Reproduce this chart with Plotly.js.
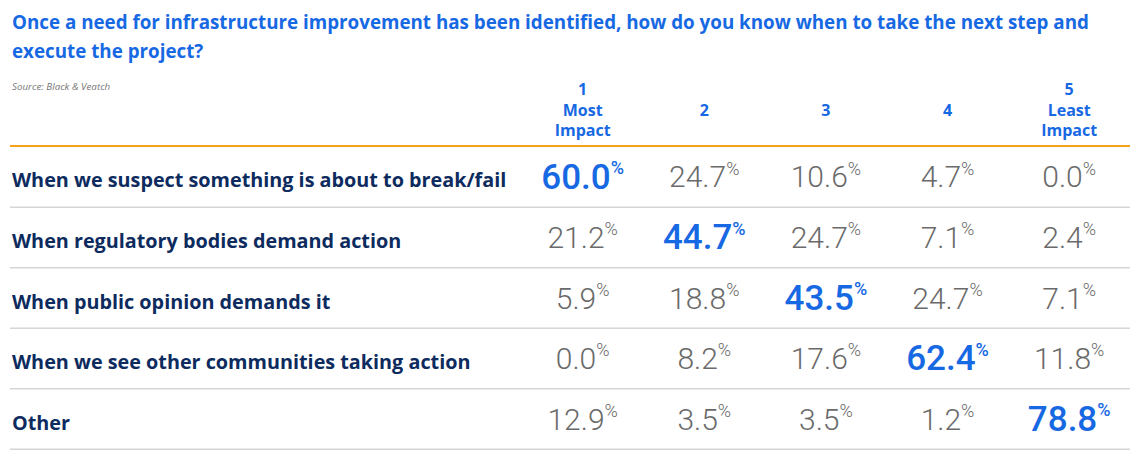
<!DOCTYPE html>
<html>
<head>
<meta charset="utf-8">
<script src="https://cdn.plot.ly/plotly-3.0.1.min.js"></script>
<style>
  body { margin: 0; background: #fff; }
  #chart { width: 1140px; height: 475px; }
</style>
</head>
<body>
<div id="chart"></div>
<script>
// survey data
var title_lines = [
    'Once a need for infrastructure improvement has been identified, how do you know when to take the next step and',
    'execute the project?'
];
var statements = [
    'When we suspect something is about to break/fail',
    'When regulatory bodies demand action',
    'When public opinion demands it',
    'When we see other communities taking action',
    'Other'
];
var columns = ['1<br>Most<br>Impact', '2', '3', '4', '5<br>Least<br>Impact'];

var impact1 = [60.0, 21.2, 5.9, 0.0, 12.9];
var impact2 = [24.7, 44.7, 18.8, 8.2, 3.5];
var impact3 = [10.6, 24.7, 43.5, 17.6, 3.5];
var impact4 = [4.7, 7.1, 24.7, 62.4, 1.2];
var impact5 = [0.0, 2.4, 7.1, 11.8, 78.8];

var blue = '#1769e3';
var navy = '#0d2b5e';
var grey = '#6a6a6a';

// build the cells: highlight the biggest value of each row
var cols = [impact1, impact2, impact3, impact4, impact5];
var plain_cells = {x: [], y: [], text: []};
var best_cells = {x: [], y: [], text: []};

for (var r = 0; r < statements.length; r++) {
    var best = 0;
    for (var c = 0; c < cols.length; c++) {
        if (cols[c][r] > cols[best][r]) best = c;
    }
    for (var c = 0; c < cols.length; c++) {
        var target = (c == best) ? best_cells : plain_cells;
        target.x.push(c);
        target.y.push(r);
        target.text.push(cols[c][r].toFixed(1) + '<sup><span style="font-size:18px">%</span></sup>');
    }
}

var trace_plain = {
    x: plain_cells.x, y: plain_cells.y, text: plain_cells.text,
    mode: 'text', type: 'scatter',
    textposition: 'middle center',
    textfont: {family: 'Roboto, Lato, sans-serif', size: 30, color: grey, weight: 300},
    hoverinfo: 'none'
};

var trace_best = {
    x: best_cells.x, y: best_cells.y, text: best_cells.text,
    mode: 'text', type: 'scatter',
    textposition: 'middle center',
    textfont: {family: 'Roboto, Lato, sans-serif', size: 35, color: blue, weight: 500},
    hoverinfo: 'none'
};

var trace_head = {
    x: [0, 1, 2, 3, 4],
    y: [-1.13, -1.13, -1.13, -1.13, -1.13],
    text: columns,
    mode: 'text', type: 'scatter',
    textposition: 'middle center',
    textfont: {family: 'Open Sans, sans-serif', size: 16, color: blue, weight: 700},
    hoverinfo: 'none'
};

// row labels and separator lines
var annotations = [];
var shapes = [];
for (var r = 0; r < statements.length; r++) {
    annotations.push({
        xref: 'paper', yref: 'y', x: 0, y: r,
        xanchor: 'left', yanchor: 'middle',
        text: statements[r], showarrow: false,
        font: {family: 'Open Sans, sans-serif', size: 19.8, color: navy, weight: 700}
    });
    shapes.push({
        type: 'line', xref: 'paper', yref: 'y',
        x0: 0, x1: 1, y0: r + 0.45, y1: r + 0.45,
        line: {color: '#d6d6d6', width: 1.5}
    });
}
shapes.push({
    type: 'line', xref: 'paper', yref: 'y',
    x0: 0, x1: 1, y0: -0.56, y1: -0.56,
    line: {color: '#f7a21b', width: 2}
});

// title, one annotation per line
for (var i = 0; i < title_lines.length; i++) {
    annotations.push({
        xref: 'paper', yref: 'paper', x: 0, y: 1 - (22 + 29 * i) / 475,
        xanchor: 'left', yanchor: 'middle',
        text: title_lines[i], showarrow: false,
        font: {family: 'Open Sans, sans-serif', size: 18.8, color: blue, weight: 700}
    });
}
annotations.push({
    xref: 'paper', yref: 'paper', x: 0, y: 1 - 86 / 475,
    xanchor: 'left', yanchor: 'middle',
    text: '<i>Source: Black &amp; Veatch</i>',
    showarrow: false,
    font: {family: 'Open Sans, sans-serif', size: 9.8, color: '#777777'}
});

var layout = {
    width: 1140,
    height: 475,
    margin: {l: 10, r: 10, t: 0, b: 0},
    paper_bgcolor: '#ffffff',
    plot_bgcolor: '#ffffff',
    showlegend: false,
    xaxis: {
        domain: [0.457, 1],
        range: [-0.5, 4.5],
        visible: false,
        fixedrange: true
    },
    yaxis: {
        range: [4.876, -2.975],
        visible: false,
        fixedrange: true
    },
    annotations: annotations,
    shapes: shapes
};

Plotly.newPlot('chart', [trace_plain, trace_best, trace_head], layout, {displayModeBar: false, staticPlot: true});
</script>
</body>
</html>
